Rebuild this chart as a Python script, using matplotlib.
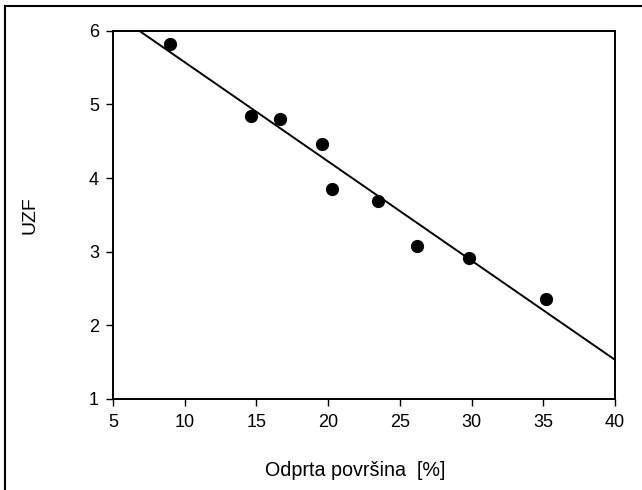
import numpy as np
import matplotlib
matplotlib.use("Agg")
from matplotlib import pyplot as plt
from matplotlib.lines import Line2D

# measured points
odprta = [9.0, 14.6, 16.65, 19.6, 20.25, 23.45, 26.2, 29.85, 35.2]
uzf = [5.82, 4.85, 4.80, 4.46, 3.85, 3.69, 3.08, 2.91, 2.36]

# regression line
intercept = 6.922
slope = -0.1348

plt.rcParams['font.family'] = ['Liberation Sans', 'DejaVu Sans']

fig = plt.figure(figsize=(6.42, 4.90), dpi=100)
ax = fig.add_axes([0.176, 0.186, 0.782, 0.751])

xl = np.array([5, 40])
ax.plot(xl, intercept + slope * xl, color='black', lw=1.4, zorder=2)
ax.plot(odprta, uzf, 'o', color='black', markersize=8.5, zorder=3)

ax.set_xlim(5, 40)
ax.set_ylim(1, 6)
ax.set_xticks([5, 10, 15, 20, 25, 30, 35, 40])
ax.set_yticks([1, 2, 3, 4, 5, 6])
ax.tick_params(direction='out', length=5, width=1, labelsize=13, colors='black')
ax.tick_params(axis='x', pad=6)
ax.tick_params(axis='y', pad=5)
for s in ax.spines.values():
    s.set_linewidth(1.4)

ax.set_xlabel('Odprta površina  [%]', fontsize=14.2)
ax.set_ylabel('UZF', fontsize=14)
ax.xaxis.set_label_coords((355 - 113) / 502, -0.168)
ax.yaxis.set_label_coords(-0.149, 0.5)

# outer frame (left and top edges visible)
fig.add_artist(Line2D([5/642, 5/642], [0, 1 - 6/490], transform=fig.transFigure, color='black', lw=1.5))
fig.add_artist(Line2D([5/642, 1], [1 - 6/490, 1 - 6/490], transform=fig.transFigure, color='black', lw=1.5))

fig.savefig('out.png', dpi=100)
